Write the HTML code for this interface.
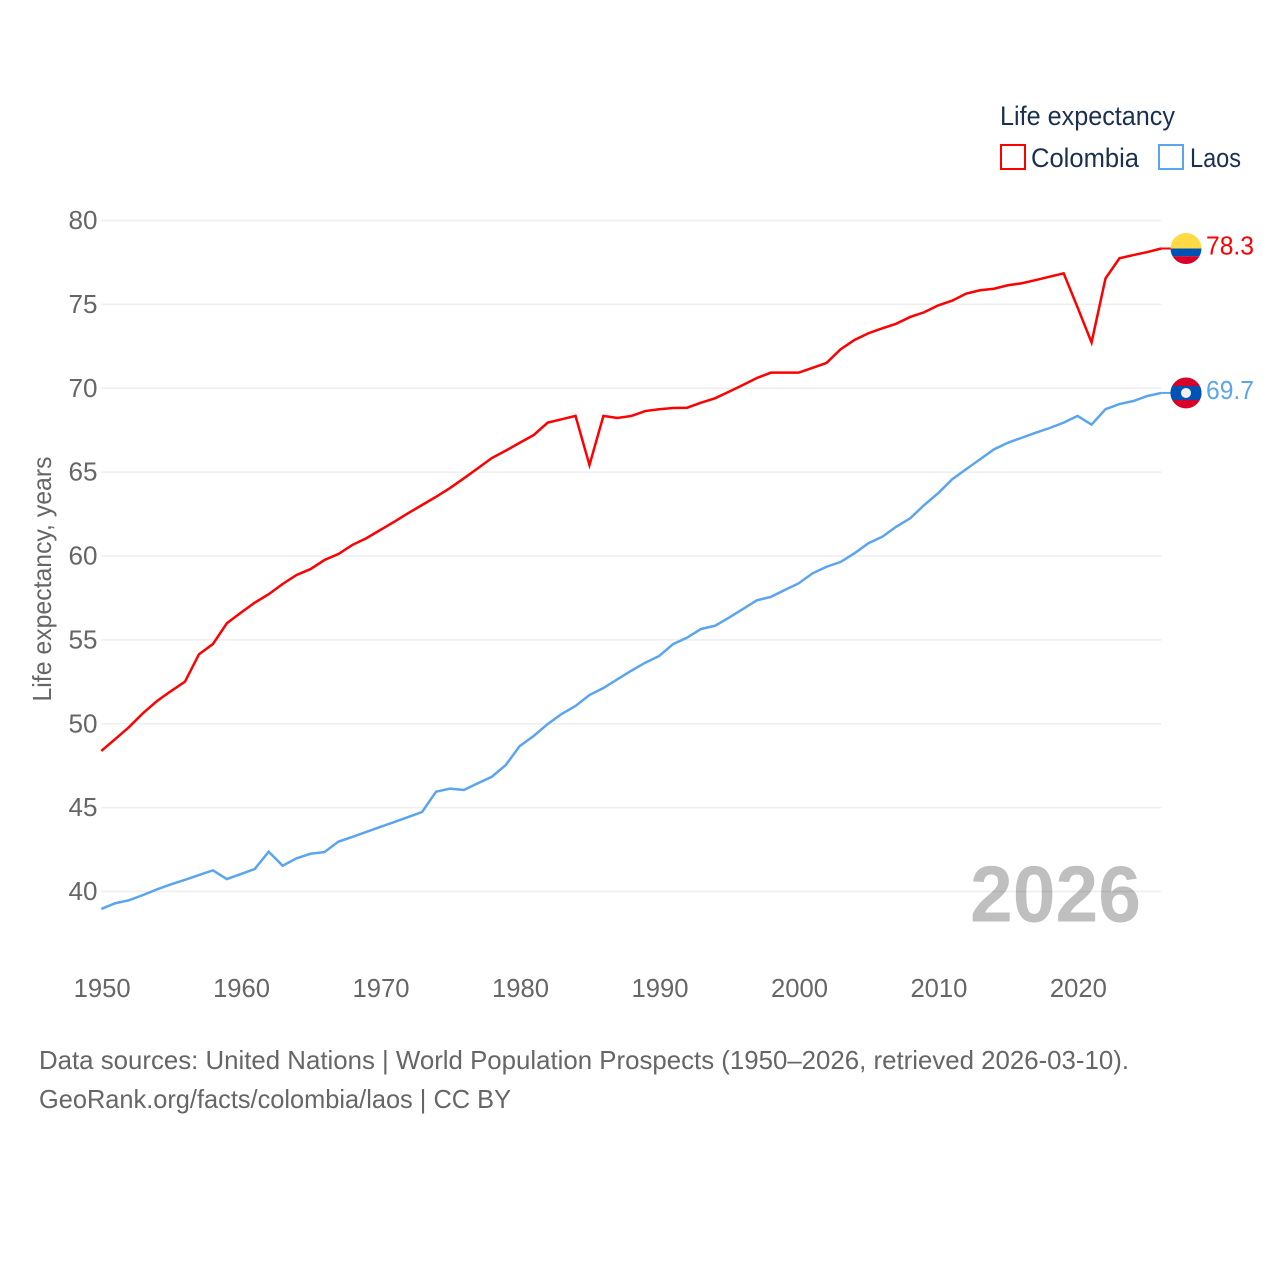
<!DOCTYPE html>
<html lang="en">
<head>
<meta charset="utf-8">
<title>Life expectancy: Colombia and Laos</title>
<style>
html,body{margin:0;padding:0;background:#fff;}
svg{display:block;font-family:"Liberation Sans",sans-serif;}
</style>
</head>
<body>
<svg id="chart" xmlns="http://www.w3.org/2000/svg" width="1280" height="1280" viewBox="0 0 1280 1280">
  <rect width="1280" height="1280" fill="#ffffff"/>
  <g id="grid"></g>
  <g id="yticks"></g>
  <g id="xticks"></g>
  <text x="1141" y="921.5" text-anchor="end" font-size="80" font-weight="bold" fill="#000000" fill-opacity="0.25" textLength="171" lengthAdjust="spacingAndGlyphs">2026</text>
  <g id="series"></g>
  <g id="markers"></g>
  <text transform="translate(51,579) rotate(-90)" text-anchor="middle" font-size="26" fill="#666666" textLength="245" lengthAdjust="spacingAndGlyphs">Life expectancy, years</text>
  <g>
    <text x="1000" y="125" font-size="27" fill="#1b3050" textLength="175" lengthAdjust="spacingAndGlyphs">Life expectancy</text>
    <g>
      <rect x="1001" y="145" width="24" height="24" fill="none" stroke="#ff0000" stroke-width="2"/>
      <text x="1031" y="167" font-size="27" fill="#1b3050" textLength="108" lengthAdjust="spacingAndGlyphs">Colombia</text>
    </g>
    <g>
      <rect x="1159" y="145" width="24" height="24" fill="none" stroke="#5aa5ee" stroke-width="2"/>
      <text x="1190" y="167" font-size="27" fill="#1b3050" textLength="51" lengthAdjust="spacingAndGlyphs">Laos</text>
    </g>
  </g>
  <g>
    <text x="39" y="1069" font-size="26" fill="#666666" textLength="1090" lengthAdjust="spacingAndGlyphs">Data sources: United Nations | World Population Prospects (1950–2026, retrieved 2026-03-10).</text>
    <text x="39" y="1108" font-size="26" fill="#666666" textLength="472" lengthAdjust="spacingAndGlyphs">GeoRank.org/facts/colombia/laos | CC BY</text>
  </g>
</svg>
<script>
const years = [1950,1951,1952,1953,1954,1955,1956,1957,1958,1959,1960,1961,1962,1963,1964,1965,1966,1967,1968,1969,1970,1971,1972,1973,1974,1975,1976,1977,1978,1979,1980,1981,1982,1983,1984,1985,1986,1987,1988,1989,1990,1991,1992,1993,1994,1995,1996,1997,1998,1999,2000,2001,2002,2003,2004,2005,2006,2007,2008,2009,2010,2011,2012,2013,2014,2015,2016,2017,2018,2019,2020,2021,2022,2023,2024,2025,2026];
const colombia = [48.38,49.09,49.81,50.64,51.36,51.95,52.51,54.14,54.75,55.99,56.62,57.22,57.72,58.33,58.87,59.22,59.76,60.12,60.66,61.06,61.55,62.04,62.55,63.04,63.53,64.05,64.63,65.23,65.84,66.28,66.75,67.21,67.95,68.15,68.35,65.42,68.35,68.23,68.35,68.64,68.75,68.82,68.84,69.14,69.40,69.79,70.19,70.61,70.93,70.93,70.93,71.22,71.51,72.32,72.88,73.28,73.57,73.85,74.25,74.53,74.94,75.22,75.64,75.84,75.93,76.14,76.26,76.45,76.65,76.85,74.81,72.73,76.55,77.75,77.94,78.12,78.33];
const laos = [38.96,39.30,39.48,39.79,40.13,40.43,40.70,40.98,41.26,40.74,41.04,41.34,42.37,41.54,41.98,42.25,42.35,42.97,43.25,43.55,43.85,44.14,44.44,44.74,45.95,46.13,46.05,46.45,46.84,47.54,48.67,49.27,49.98,50.58,51.06,51.71,52.13,52.65,53.16,53.64,54.04,54.75,55.13,55.65,55.84,56.32,56.84,57.36,57.56,57.97,58.37,58.97,59.36,59.64,60.16,60.76,61.15,61.75,62.25,63.04,63.74,64.57,65.17,65.76,66.36,66.75,67.05,67.35,67.63,67.95,68.35,67.83,68.75,69.06,69.24,69.54,69.72];
const yTickValues = [40,45,50,55,60,65,70,75,80];
const xTickValues = [1950,1960,1970,1980,1990,2000,2010,2020];
const endLabels = ["78.3","69.7"];

const NS = 'http://www.w3.org/2000/svg';
const chartLeft = 101.3, chartRight = 1161.3;
const y40 = 891.5, y80 = 220.5;
function xScale(year) {
  return chartLeft + (year - years[0]) / (years[years.length - 1] - years[0]) * (chartRight - chartLeft);
}
function yScale(value) {
  return y40 + (value - 40) / 40 * (y80 - y40);
}
function make(tag, attrs, parent) {
  const el = document.createElementNS(NS, tag);
  for (const k in attrs) el.setAttribute(k, attrs[k]);
  parent.appendChild(el);
  return el;
}

const gridG = document.getElementById('grid');
const yG = document.getElementById('yticks');
yTickValues.forEach(function (v) {
  const line = make('line', {x1: chartLeft, x2: chartRight, y1: yScale(v), y2: yScale(v), stroke: '#eeeeee', 'stroke-width': 1.5}, gridG);
  
  
  const t = make('text', {x: 97.5, y: yScale(v) + 8.5, 'text-anchor': 'end', 'font-size': 26, fill: '#666666', textLength: 29, lengthAdjust: 'spacingAndGlyphs'}, yG);
  t.textContent = v;
  
  
});

const xG = document.getElementById('xticks');
xTickValues.forEach(function (v) {
  const t = make('text', {x: xScale(v) + 0.8, y: 997, 'text-anchor': 'middle', 'font-size': 26, fill: '#666666', textLength: 57, lengthAdjust: 'spacingAndGlyphs'}, xG);
  t.textContent = v;
  
  
});

function linePoints(values) {
  return values.map(function (v, i) {
    return xScale(years[i]).toFixed(2) + ',' + yScale(v).toFixed(2);
  }).join(' ');
}
const seriesG = document.getElementById('series');
const lineColombia = make('polyline', {points: linePoints(colombia), fill: 'none', stroke: '#ff0000', 'stroke-width': 2.5, 'stroke-linejoin': 'miter'}, seriesG);


const lineLaos = make('polyline', {points: linePoints(laos), fill: 'none', stroke: '#5aa5ee', 'stroke-width': 2.5, 'stroke-linejoin': 'miter'}, seriesG);



const markersG = document.getElementById('markers');
const markerX = 1186, markerR = 15.5;
function flagClip(id, cy) {
  const cp = make('clipPath', {id: id}, markersG);
  make('circle', {cx: markerX, cy: cy, r: markerR}, cp);
}
function band(parent, y, h, fill) {
  make('rect', {x: markerX - markerR, y: y, width: markerR * 2, height: h, fill: fill}, parent);
}

const colombiaY = yScale(colombia[colombia.length - 1]);
const connectorColombia = make('line', {x1: chartRight, x2: 1172, y1: colombiaY, y2: colombiaY, stroke: '#ff0000', 'stroke-width': 2}, markersG);


flagClip('clip-colombia', colombiaY);
const flagColombia = make('g', {'clip-path': 'url(#clip-colombia)'}, markersG);


band(flagColombia, colombiaY - markerR, markerR, '#ffda44');
band(flagColombia, colombiaY, 7.7, '#0052b4');
band(flagColombia, colombiaY + 7.7, 7.8, '#d80027');
const labelColombia = make('text', {x: 1254, y: colombiaY + 6, 'text-anchor': 'end', 'font-size': 26, fill: '#ff0000', textLength: 48, lengthAdjust: 'spacingAndGlyphs'}, markersG);
labelColombia.textContent = endLabels[0];



const laosY = yScale(laos[laos.length - 1]);
const connectorLaos = make('line', {x1: chartRight, x2: 1172, y1: laosY, y2: laosY, stroke: '#5aa5ee', 'stroke-width': 2}, markersG);


flagClip('clip-laos', laosY);
const flagLaos = make('g', {'clip-path': 'url(#clip-laos)'}, markersG);


band(flagLaos, laosY - markerR, markerR * 2, '#d80027');
band(flagLaos, laosY - 7, 14, '#0052b4');
make('circle', {cx: markerX, cy: laosY, r: 5, fill: '#f0f0f0'}, flagLaos);
const labelLaos = make('text', {x: 1254, y: laosY + 6, 'text-anchor': 'end', 'font-size': 26, fill: '#5aa5ee', textLength: 48, lengthAdjust: 'spacingAndGlyphs'}, markersG);
labelLaos.textContent = endLabels[1];


</script>
</body>
</html>
